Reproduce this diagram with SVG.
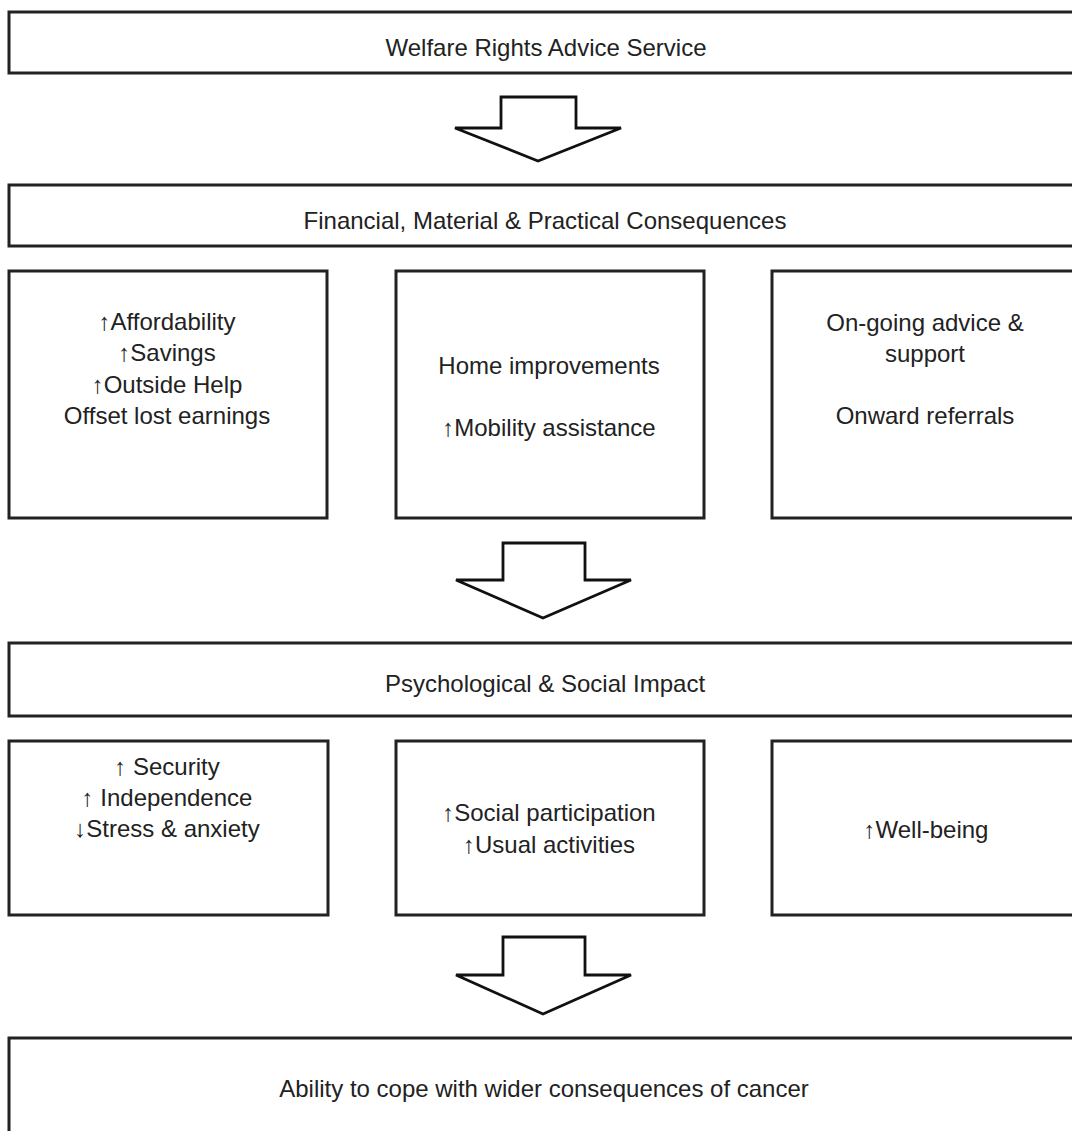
<svg xmlns="http://www.w3.org/2000/svg" width="1072" height="1131" viewBox="0 0 1072 1131">
<style>
.box{fill:#fff;stroke:#222;stroke-width:3}
.arr{fill:#fff;stroke:#111;stroke-width:2.8;stroke-linejoin:miter}
.h{font-family:"Liberation Sans",Arial,"DejaVu Sans",sans-serif;font-size:24px;fill:#222;text-anchor:middle}
.t{font-family:"Liberation Sans",Arial,"DejaVu Sans",sans-serif;font-size:24px;fill:#222;text-anchor:middle}
</style>
<rect width="1072" height="1131" fill="#fff"/>
<g id="connectors">
<path class="arr" d="M501,97 H576 V128 H621 L538,161 L455,128 H501 Z"/>
<path class="arr" d="M503,543 H585 V580 H631 L543,618 L456,580 H503 Z"/>
<path class="arr" d="M503,937 H585 V975 H631 L543,1014 L456,975 H503 Z"/>
</g>
<g id="n-welfare"><rect class="box" x="9" y="12" width="1075" height="61"/><text class="h" x="546" y="56">Welfare Rights Advice Service</text></g>
<g id="n-financial"><rect class="box" x="9" y="185" width="1075" height="61"/><text class="h" x="545" y="229">Financial, Material &amp; Practical Consequences</text></g>
<g id="n-fin1"><rect class="box" x="9" y="271" width="318" height="247"/>
<text class="t" x="167" y="330">↑Affordability</text><text class="t" x="167" y="361">↑Savings</text><text class="t" x="167" y="393">↑Outside Help</text><text class="t" x="167" y="424">Offset lost earnings</text></g>
<g id="n-fin2"><rect class="box" x="396" y="271" width="308" height="247"/>
<text class="t" x="549" y="374">Home improvements</text><text class="t" x="549" y="436">↑Mobility assistance</text></g>
<g id="n-fin3"><rect class="box" x="772" y="271" width="312" height="247"/>
<text class="t" x="925" y="331">On-going advice &amp;</text><text class="t" x="925" y="362">support</text><text class="t" x="925" y="424">Onward referrals</text></g>
<g id="n-psych"><rect class="box" x="9" y="643" width="1075" height="73"/><text class="h" x="545" y="692">Psychological &amp; Social Impact</text></g>
<g id="n-ps1"><rect class="box" x="9" y="741" width="319" height="174"/>
<text class="t" x="167" y="775">↑ Security</text><text class="t" x="167" y="806">↑ Independence</text><text class="t" x="167" y="837">↓Stress &amp; anxiety</text></g>
<g id="n-ps2"><rect class="box" x="396" y="741" width="308" height="174"/>
<text class="t" x="549" y="821">↑Social participation</text><text class="t" x="549" y="853">↑Usual activities</text></g>
<g id="n-ps3"><rect class="box" x="772" y="741" width="312" height="174"/>
<text class="t" x="926" y="838">↑Well-being</text></g>
<g id="n-cope"><rect class="box" x="9" y="1038" width="1075" height="110"/><text class="h" x="544" y="1097">Ability to cope with wider consequences of cancer</text></g>
</svg>
